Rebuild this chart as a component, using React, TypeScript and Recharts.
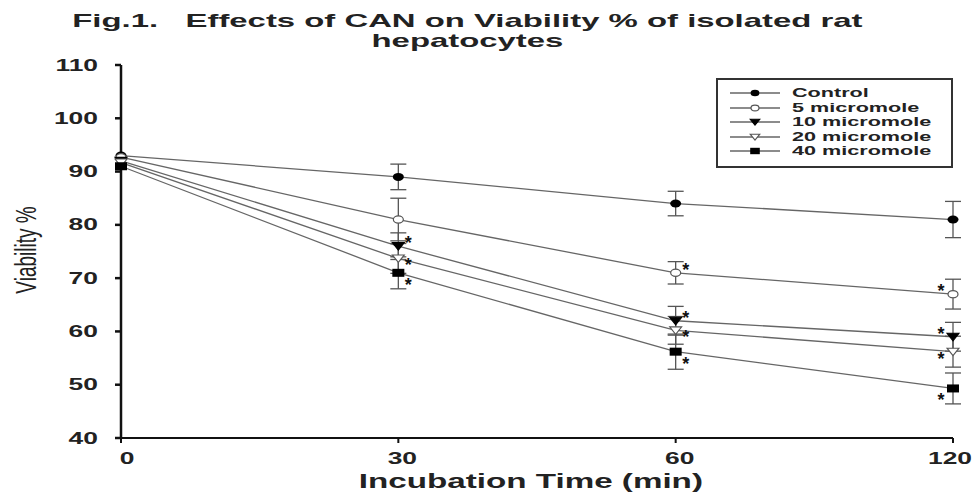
import React from "react";
import {
  LineChart,
  Line,
  XAxis,
  YAxis,
  ErrorBar,
  LabelList,
} from "recharts";

// incubation time (min)
const times = ["0", "30", "60", "120"];

// viability % (mean) and error (±)
const control = [93, 89, 84, 81];
const controlErr = [0, 2.4, 2.3, 3.4];
const um5 = [92.7, 81, 71, 67];
const um5Err = [0, 4, 2.1, 2.8];
const um10 = [92, 76, 62, 59];
const um10Err = [0, 2.5, 2.7, 2.7];
const um20 = [91.7, 73.7, 60.2, 56.2];
const um20Err = [0, 2.8, 2.6, 2.9];
const um40 = [91, 71, 56.2, 49.3];
const um40Err = [0, 3, 3.3, 2.9];

// significance markers (*)
const um5Sig = [0, 0, 1, 1];
const um10Sig = [0, 1, 1, 1];
const um20Sig = [0, 1, 1, 1];
const um40Sig = [0, 1, 1, 1];

const yTicks = [40, 50, 60, 70, 80, 90, 100, 110];

const chartData = times.map((t, i) => ({
  time: t,
  control: control[i],
  controlErr: controlErr[i],
  um5: um5[i],
  um5Err: um5Err[i],
  um5Sig: um5Sig[i],
  um10: um10[i],
  um10Err: um10Err[i],
  um10Sig: um10Sig[i],
  um20: um20[i],
  um20Err: um20Err[i],
  um20Sig: um20Sig[i],
  um40: um40[i],
  um40Err: um40Err[i],
  um40Sig: um40Sig[i],
}));

const FONT = "'Liberation Sans', Arial, Helvetica, sans-serif";

type Shape = "circle" | "openCircle" | "tri" | "openTri" | "square";

const Marker = ({ cx, cy, shape, k = 1 }: { cx: number; cy: number; shape: Shape; k?: number }) => {
  if (shape === "circle")
    return <ellipse cx={cx} cy={cy} rx={5.5 * k} ry={4 * k} fill="#000" />;
  if (shape === "openCircle")
    return <ellipse cx={cx} cy={cy} rx={5 * k} ry={3.6 * k} fill="#fff" stroke="#555" strokeWidth={1.2} />;
  if (shape === "tri" || shape === "openTri")
    return (
      <polygon
        points={`${cx - 6 * k},${cy - 3.5 * k} ${cx + 6 * k},${cy - 3.5 * k} ${cx},${cy + 4 * k}`}
        fill={shape === "tri" ? "#000" : "#fff"}
        stroke={shape === "tri" ? "#000" : "#555"}
        strokeWidth={1.1}
      />
    );
  return <rect x={cx - 6 * k} y={cy - 4 * k} width={12 * k} height={8 * k} fill="#000" />;
};

const makeDot = (shape: Shape) => (props: any) => {
  const { cx, cy, index } = props;
  if (cx == null || cy == null) return <g key={`d-${index}`} />;
  return (
    <g key={`${shape}-${index}`}>
      <Marker cx={cx} cy={cy} shape={shape} />
    </g>
  );
};

const makeStar = (dy: number) => (props: any) => {
  const { x, y, value, index } = props;
  if (!value) return null;
  const last = index === times.length - 1;
  const sx = last ? x - 12 : x + 10;
  const sy = y + dy + 10;
  return (
    <text
      key={`s-${index}`}
      x={sx}
      y={sy}
      textAnchor="middle"
      fontSize={18}
      fontWeight="bold"
      fontFamily={FONT}
      fill="#111"
    >
      *
    </text>
  );
};

const YTick = ({ x, y, payload }: any) => (
  <text
    x={x}
    y={y}
    textAnchor="end"
    dominantBaseline="central"
    fontSize={16.5}
    fontWeight="bold"
    fontFamily={FONT}
    fill="#222"
    transform={`translate(${x},${y}) scale(1.6,1) translate(${-x},${-y})`}
  >
    {payload.value}
  </text>
);

const XTick = ({ x, y, payload, index }: any) => {
  const last = index === times.length - 1;
  const cx = x + (last ? -3 : index === 0 ? 6 : 4);
  const cy = y + 13;
  return (
    <text
      x={cx}
      y={cy}
      textAnchor="middle"
      dominantBaseline="central"
      fontSize={16.5}
      fontWeight="bold"
      fontFamily={FONT}
      fill="#222"
      transform={`translate(${cx},${cy}) scale(1.6,1) translate(${-cx},${-cy})`}
    >
      {payload.value}
    </text>
  );
};

const series: { key: string; name: string; shape: Shape; starDy: number }[] = [
  { key: "control", name: "Control", shape: "circle", starDy: 0 },
  { key: "um5", name: "5 micromole", shape: "openCircle", starDy: -7 },
  { key: "um10", name: "10 micromole", shape: "tri", starDy: -7 },
  { key: "um20", name: "20 micromole", shape: "openTri", starDy: 3 },
  { key: "um40", name: "40 micromole", shape: "square", starDy: 8 },
];

export default function App() {
  return (
    <div
      style={{
        position: "absolute",
        top: 0,
        left: 0,
        width: 976,
        height: 493,
        background: "#fff",
        overflow: "hidden",
      }}
    >
      {/* Title */}
      <div
        style={{
          position: "absolute",
          top: 11,
          left: 0,
          width: 934,
          textAlign: "center",
          fontFamily: FONT,
          fontWeight: "bold",
          fontSize: 19,
          lineHeight: "19.5px",
          color: "#222",
          zIndex: 2,
        }}
      >
        <div style={{ display: "inline-block", transform: "scaleX(1.73)", whiteSpace: "pre" }}>
          {"Fig.1.   Effects of CAN on Viability % of isolated rat"}
        </div>
        <br />
        <div style={{ display: "inline-block", transform: "scaleX(1.73)" }}>hepatocytes</div>
      </div>

      <LineChart
        width={976}
        height={493}
        data={chartData}
        margin={{ top: 65, right: 23, bottom: 0, left: 21 }}
      >
        <XAxis
          dataKey="time"
          type="category"
          height={55}
          padding={{ left: 0, right: 0 }}
          stroke="#111"
          strokeWidth={2}
          tickSize={5}
          tick={<XTick />}
        />
        <YAxis
          type="number"
          domain={[40, 110]}
          ticks={yTicks}
          width={100}
          stroke="#111"
          strokeWidth={2.5}
          tickSize={6}
          tickMargin={17}
          tick={<YTick />}
          interval={0}
        />
        {series.map((s) => (
          <Line
            key={s.key}
            dataKey={s.key}
            name={s.name}
            type="linear"
            stroke="#666"
            strokeWidth={1.3}
            dot={makeDot(s.shape)}
            activeDot={false}
            isAnimationActive={false}
          >
            <ErrorBar dataKey={`${s.key}Err`} width={8} stroke="#555" strokeWidth={1.3} />
            {s.key !== "control" && (
              <LabelList dataKey={`${s.key}Sig`} content={makeStar(s.starDy)} />
            )}
          </Line>
        ))}
      </LineChart>

      {/* Y axis title */}
      <div
        style={{
          position: "absolute",
          left: 26,
          top: 250,
          transform: "translate(-50%, -50%) scaleX(1.6) rotate(-90deg)",
          fontFamily: FONT,
          fontSize: 19,
          lineHeight: "21px",
          color: "#222",
          whiteSpace: "nowrap",
        }}
      >
        Viability %
      </div>

      {/* X axis title */}
      <div
        style={{
          position: "absolute",
          left: 0,
          top: 470,
          width: 1062,
          textAlign: "center",
          fontFamily: FONT,
          fontWeight: "bold",
          fontSize: 21,
          lineHeight: "21px",
          color: "#222",
        }}
      >
        <div style={{ display: "inline-block", transform: "scaleX(1.58)", whiteSpace: "pre" }}>
          Incubation Time (min)
        </div>
      </div>

      {/* Legend */}
      <div
        style={{
          position: "absolute",
          left: 716,
          top: 78,
          width: 233,
          height: 80,
          border: "2px solid #333",
          paddingTop: 6,
          boxSizing: "content-box",
          background: "#fff",
        }}
      >
        {series.map((s) => (
          <div
            key={s.key}
            style={{ display: "flex", alignItems: "center", height: 14.5 }}
          >
            <svg width={74} height={14} style={{ flex: "none" }}>
              <line x1={12} x2={62} y1={7} y2={7} stroke="#666" strokeWidth={1.3} />
              <Marker cx={37} cy={7} shape={s.shape} k={0.8} />
            </svg>
            <span
              style={{
                display: "inline-block",
                transform: "scaleX(1.8)",
                transformOrigin: "left center",
                fontFamily: FONT,
                fontWeight: "bold",
                fontSize: 12,
                lineHeight: "14px",
                color: "#222",
                whiteSpace: "nowrap",
              }}
            >
              {s.name}
            </span>
          </div>
        ))}
      </div>
    </div>
  );
}
